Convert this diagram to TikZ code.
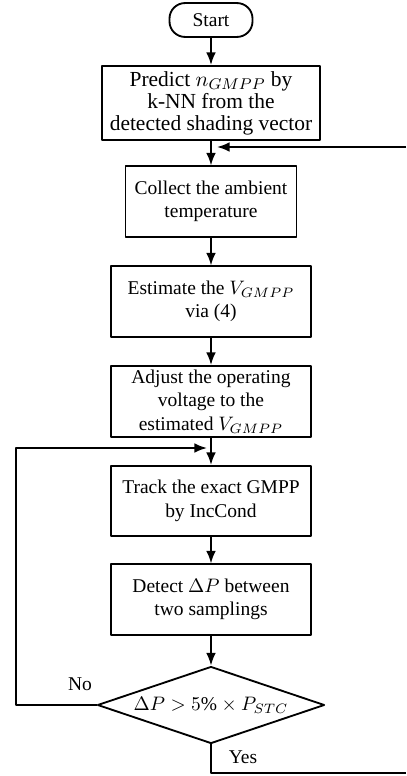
\documentclass[tikz,border=0pt]{standalone}
\usepackage{fontspec}
\setmainfont{Liberation Serif}
\usetikzlibrary{shapes.geometric,arrows.meta}

\begin{document}
\begin{tikzpicture}[x=0.513pt, y=-0.513pt, font=\fontsize{10}{12}\selectfont, line join=round, line width=0.95pt, >={Latex[length=6.5pt,width=5pt]},
		box/.style={draw, align=center, minimum width=102.6pt, minimum height=36pt, inner sep=2pt},
		terminal/.style={draw, rounded corners=8pt, minimum width=42.6pt, minimum height=17.4pt},
		decision/.style={draw, diamond, aspect=2.9, inner sep=1pt, minimum width=116.5pt, minimum height=39.5pt}]
	
	\useasboundingbox (0,0) rectangle (406,776);
	
	\path 
		(211,20) coordinate (S)
		(211,103) coordinate (P)
		(211,201.5) coordinate (C)
		(211,301.5) coordinate (E)
		(211,401.5) coordinate (A)
		(211,501) coordinate (T)
		(211,599.5) coordinate (D)
		(211,705) coordinate (Q)
		(406,147) coordinate (fb_r)
		(217,147) coordinate (fb_t)
		(16,448) coordinate (loop_l)
		(207,448) coordinate (loop_t)
		(406,773) coordinate (yes_r)
	;
	
	\node[terminal] (start) at (S) {Start};
	\node[box, minimum width=111.8pt, minimum height=38pt, font=\fontsize{11}{11.3}\selectfont] (predict) at (P) {Predict $n_{GMPP}$ by\\k-NN from the\\detected shading vector};
	\node[box, minimum width=87.7pt] (collect) at (C) {Collect the ambient\\temperature};
	\node[box] (estimate) at (E) {Estimate the $V_{GMPP}$\\via (4)};
	\node[box] (adjust) at (A) {Adjust the operating\\voltage to the\\estimated $V_{GMPP}$};
	\node[box] (track) at (T) {Track the exact GMPP\\by IncCond};
	\node[box] (detect) at (D) {Detect $\Delta P$ between\\two samplings};
	\node[decision] (check) at (Q) {$\Delta P > 5\% \times P_{STC}$};
	
	\draw[->] (start) -- (predict);
	\draw[->] (predict) -- (collect);
	\draw[->] (collect) -- (estimate);
	\draw[->] (estimate) -- (adjust);
	\draw[->] (adjust) -- (track);
	\draw[->] (track) -- (detect);
	\draw[->] (detect) -- (check);
	
	% feedback loops
	\draw[->] (fb_r) -- (fb_t);
	\draw[->] (check.west) -| (loop_l) -- (loop_t);
	\draw (check.south) |- (yes_r);
	
	\node (lbl_no) at (80,684) {No};
	\node (lbl_yes) at (243,757) {Yes};
\end{tikzpicture}
\end{document}
